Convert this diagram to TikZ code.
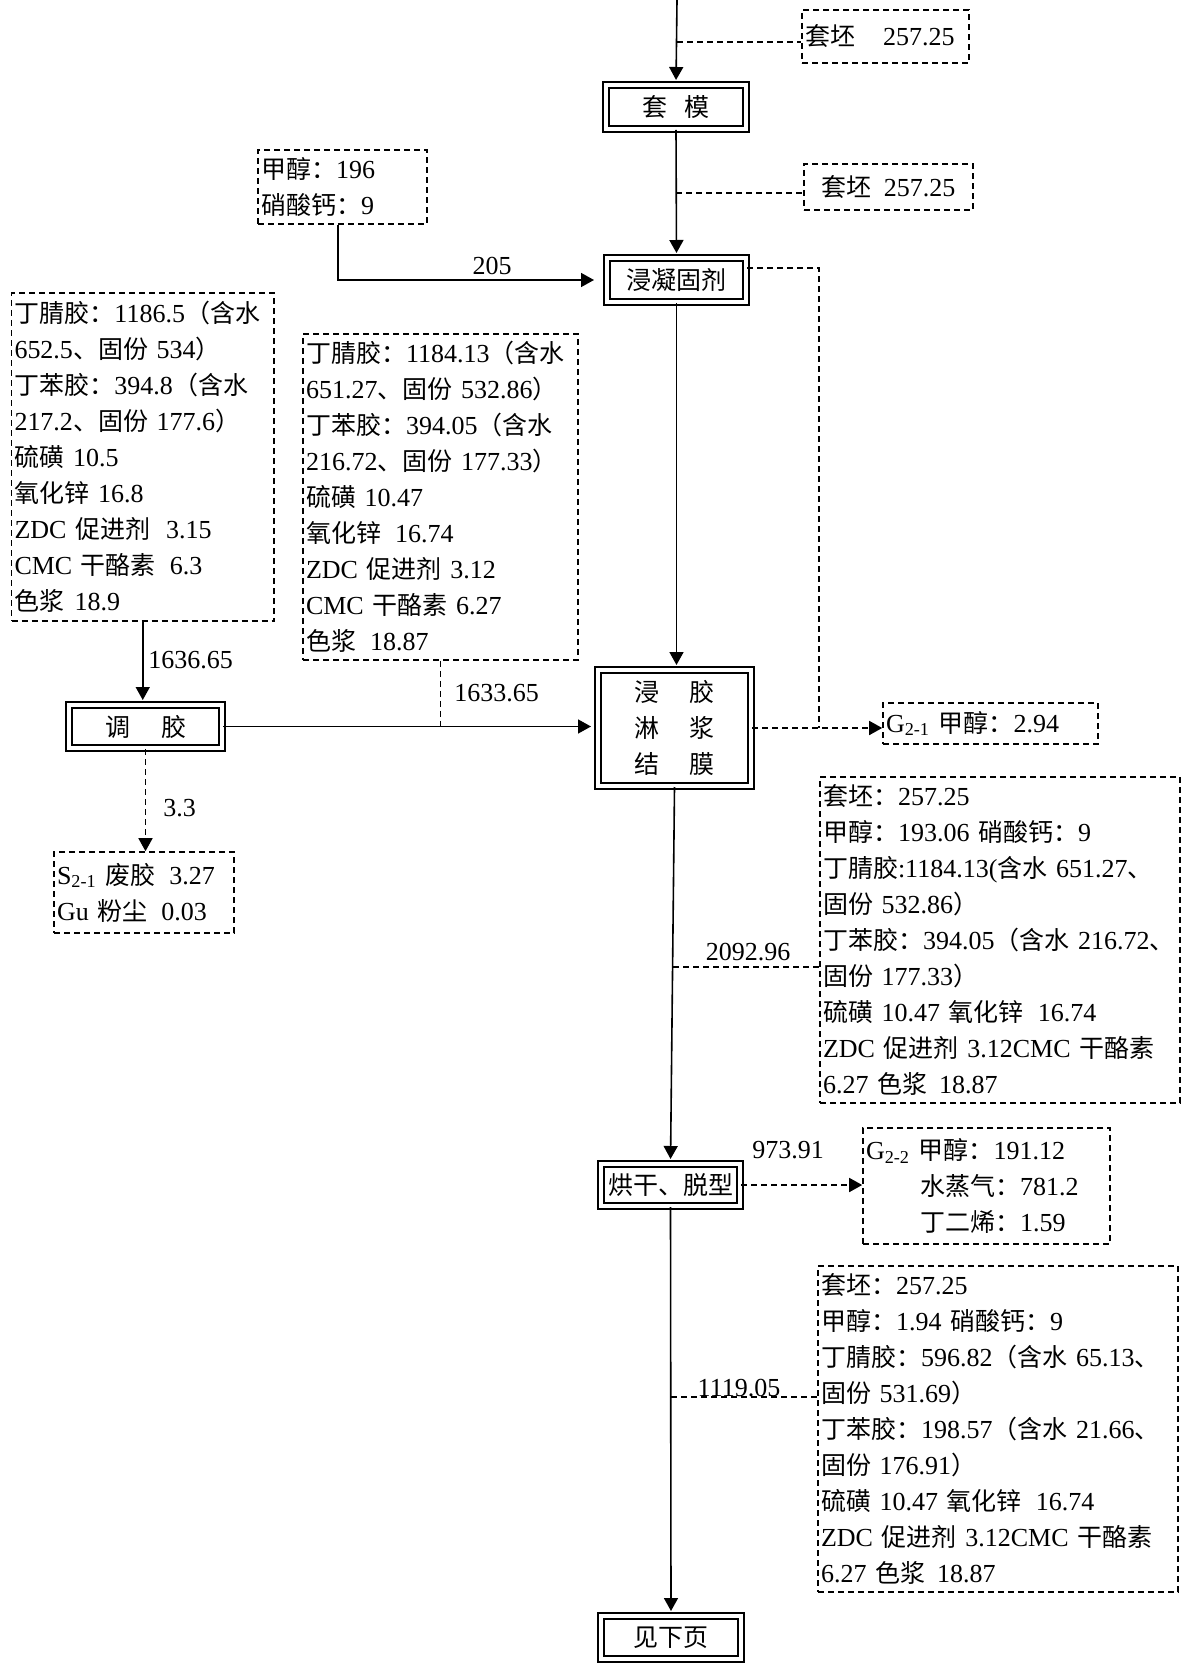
\documentclass[tikz,border=0pt]{standalone}
\usepackage{fontspec}
\setmainfont{Liberation Serif}[Scale=1.04]
\newfontfamily\cjk{Noto Sans CJK SC}
\usetikzlibrary{arrows.meta}
\XeTeXinterchartokenstate=1
\newXeTeXintercharclass\CJKcls
\newcount\mycc
\mycc="3000 \loop \XeTeXcharclass\mycc=\CJKcls \advance\mycc by 1 \ifnum\mycc<"3040 \repeat
\mycc="4E00 \loop \XeTeXcharclass\mycc=\CJKcls \advance\mycc by 1 \ifnum\mycc<"A000 \repeat
\mycc="FF00 \loop \XeTeXcharclass\mycc=\CJKcls \advance\mycc by 1 \ifnum\mycc<"FFF0 \repeat
\XeTeXinterchartoks 0 \CJKcls = {\cjk}
\XeTeXinterchartoks 4095 \CJKcls = {\cjk}
\XeTeXinterchartoks \CJKcls 0 = {\rmfamily}
\XeTeXinterchartoks \CJKcls 4095 = {\rmfamily}
\tikzset{
  every node/.style={font=\fontsize{12.5pt}{18pt}\selectfont},
  proc/.style={draw, line width=1pt, double, double distance=2pt, inner sep=0pt, align=center},
  dbox/.style={draw, line width=0.8pt, dash pattern=on 3pt off 2pt, inner xsep=1.5pt, inner ysep=0pt},
  conn/.style={line width=0.8pt},
  dsh/.style={line width=0.8pt, dash pattern=on 3pt off 2pt},
  arr/.style={-{Triangle[length=6.5pt,width=7pt]}},
  lbl/.style={inner sep=0pt},
}
\begin{document}
\begin{tikzpicture}[x=0.5pt,y=-0.5pt]
\useasboundingbox (0,0) rectangle (1182,1664);
% process boxes
\node[proc, minimum width=70pt, minimum height=22pt] (tm) at (676,107) {套\hspace{8.5pt}模};
\node[proc, minimum width=69.5pt, minimum height=22pt] (jn) at (676.5,280) {浸凝固剂};
\node[proc, minimum width=76.5pt, minimum height=21.5pt] (tj) at (145.5,726.5) {调\hspace{15.5pt}胶};
\node[proc, minimum width=76.5pt, minimum height=58pt] (jj) at (674.5,728) {浸\hspace{15pt}胶\\淋\hspace{15pt}浆\\结\hspace{15pt}膜};
\node[proc, minimum width=69.5pt, minimum height=21pt] (hg) at (670.5,1185) {烘干、脱型};
\node[proc, minimum width=70pt, minimum height=21.5pt] (jx) at (671,1637.5) {见下页};
% dashed material boxes
\node[dbox, text width=80.5pt, minimum height=26.5pt, align=left] (tp1) at (885.5,36.5) {套坯\hspace{14pt}257.25};
\node[dbox, minimum width=84.5pt, minimum height=23pt, align=center] (tp2) at (888.5,187) {套坯\hspace{6pt}257.25};
\node[dbox, text width=81.5pt, minimum height=37pt, align=left] (jc) at (342.5,187) {甲醇：196\\硝酸钙：9};
\node[dbox, text width=128.25pt, minimum height=164pt, align=left] (lb) at (142.75,457)
 {丁腈胶：1186.5（含水\\652.5、固份 534）\\丁苯胶：394.8（含水\\217.2、固份 177.6）\\硫磺 10.5\\氧化锌 16.8\\ZDC 促进剂\hspace{8pt}3.15\\CMC 干酪素\hspace{7pt}6.3\\色浆\hspace{5pt}18.9};
\node[dbox, text width=134.5pt, minimum height=163pt, align=left] (mb) at (440.5,497)
 {丁腈胶：1184.13（含水\\651.27、固份 532.86）\\丁苯胶：394.05（含水\\216.72、固份 177.33）\\硫磺 10.47\\氧化锌\hspace{7pt}16.74\\ZDC 促进剂 3.12\\CMC 干酪素 6.27\\色浆\hspace{7pt}18.87};
\node[dbox, text width=87pt, minimum height=40.5pt, align=left] (sb) at (144,892.5)
 {S\textsubscript{2-1} 废胶\hspace{7pt}3.27\\Gu 粉尘\hspace{7pt}0.03};
\node[dbox, text width=104.5pt, minimum height=20.5pt, align=left] (g1) at (990.5,723.5) {G\textsubscript{2-1} 甲醇：2.94};
\node[dbox, text width=177pt, minimum height=163pt, align=left] (bb1) at (1000,940)
 {套坯：257.25\\甲醇：193.06 硝酸钙：9\\丁腈胶:1184.13(含水 651.27、\\固份 532.86）\\丁苯胶：394.05（含水 216.72、\\固份 177.33）\\硫磺 10.47 氧化锌\hspace{7pt}16.74\\ZDC 促进剂 3.12CMC 干酪素\\6.27 色浆\hspace{6pt}18.87};
\node[dbox, text width=120.5pt, minimum height=58pt, align=left] (g2) at (986.5,1186)
 {G\textsubscript{2-2} 甲醇：191.12\\\hspace*{27pt}水蒸气：781.2\\\hspace*{27pt}丁二烯：1.59};
\node[dbox, text width=177pt, minimum height=163pt, align=left] (bb2) at (998,1429)
 {套坯：257.25\\甲醇：1.94 硝酸钙：9\\丁腈胶：596.82（含水 65.13、\\固份 531.69）\\丁苯胶：198.57（含水 21.66、\\固份 176.91）\\硫磺 10.47 氧化锌\hspace{7pt}16.74\\ZDC 促进剂 3.12CMC 干酪素\\6.27 色浆\hspace{6pt}18.87};
% helper coordinates
\coordinate (top) at (677,0);
\coordinate (d1) at (677,42);
\coordinate (d2) at (676,193);
\coordinate (jm) at (819,728);
\coordinate (d3) at (673,967);
\coordinate (d4) at (671,1397);
% connectors
\draw[conn,arr,shorten >=2pt] (top) -- (tm.north);
\draw[dsh] (d1) -- (d1 -| tp1.west);
\draw[conn,arr,shorten >=2pt] (tm.south) -- (jn.north);
\draw[dsh] (d2) -- (d2 -| tp2.west);
\draw[conn,arr,shorten >=6pt] ([xshift=-2.25pt]jc.south) |- (jn.west);
\draw[conn,arr,shorten >=2pt] (jn.south) -- (jn.south |- jj.north);
\draw[dsh] ([yshift=6pt]jn.east) -| (jm);
\draw[dsh,arr] (jj.east) -- (jj.east -| g1.west);
\draw[conn,arr,shorten >=2pt] (lb.south) -- (lb.south |- tj.north);
\draw[conn,arr,shorten >=3pt] (tj.east) -- (tj.east -| jj.west);
\draw[dsh] (mb.south) -- (mb.south |- tj.east);
\draw[dsh,arr] (tj.south) -- (tj.south |- sb.north);
\draw[conn,arr,shorten >=2pt] (jj.south) -- (hg.north);
\draw[dsh] (d3) -- (d3 -| bb1.west);
\draw[dsh,arr] (hg.east) -- (hg.east -| g2.west);
\draw[conn,arr,shorten >=2pt] (hg.south) -- (jx.north);
\draw[dsh] (d4) -- (d4 -| bb2.west);
% flow labels
\node[lbl] (l205) at (492,266) {205};
\node[lbl,anchor=west] (l1636) at (148,660) {1636.65};
\node[lbl,anchor=west] (l1633) at (454,693) {1633.65};
\node[lbl,anchor=west] (l33) at (163,808) {3.3};
\node[lbl] (l2092) at (748,952) {2092.96};
\node[lbl] (l973) at (788,1150) {973.91};
\node[lbl] (l1119) at (739,1388) {1119.05};
\end{tikzpicture}
\end{document}
